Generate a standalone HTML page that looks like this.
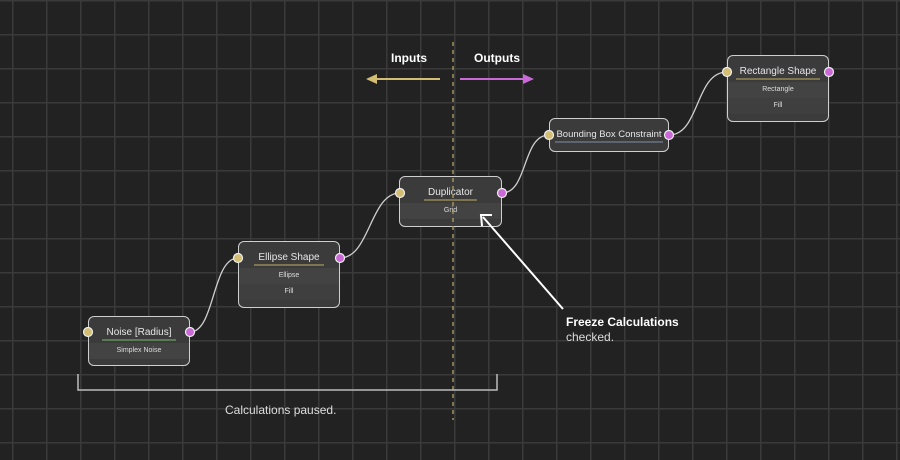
<!DOCTYPE html>
<html><head><meta charset="utf-8"><style>
body{margin:0;width:900px;height:460px;overflow:hidden;background:#222;font-family:"Liberation Sans",sans-serif}
.g{position:absolute;left:0;top:0;width:900px;height:460px;
background-image:linear-gradient(to right,#3a3a3a 0,#3a3a3a 1.5px,transparent 1.5px),linear-gradient(to bottom,#3a3a3a 0,#3a3a3a 1.5px,transparent 1.5px);
background-size:34px 34px;background-position:12px 0,0 0}
.n{position:absolute;background:#3b3b3b;border:1.5px solid #cfcfcf;border-radius:6px;box-sizing:border-box;overflow:hidden}
.t{height:26px;padding-top:9px;box-sizing:border-box;line-height:13px;text-align:center;color:#e6e6e6;font-size:10px;white-space:nowrap}
.t span{border-bottom:2px solid #7d7550;padding:0 4px 1px}
.r{height:16px;line-height:16px;text-align:center;color:#ddd;font-size:7px}
.r.a{background:#434343}
.r.b{background:#3f3f3f}
.lab{position:absolute;color:#fff;font-size:12px}
</style></head><body>
<div class="g"></div>
<svg width="900" height="460" style="position:absolute;left:0;top:0">
<g fill="none" stroke="#d0d0d0" stroke-width="1.3">
<path d="M190 332 C215 332,212 258,238 258"/>
<path d="M340 258 C370 258,370 193,400 193"/>
<path d="M502 193 C528 193,522 135,549 135"/>
<path d="M669 135 C700 135,695 72,727 72"/>
</g>
</svg>
<div class="n" style="left:88px;top:316px;width:102px;height:50px"><div class="t"><span style="border-color:#5a7a55">Noise [Radius]</span></div><div class="r a">Simplex Noise</div></div>
<div class="n" style="left:238px;top:241px;width:102px;height:67px"><div class="t"><span>Ellipse Shape</span></div><div class="r a">Ellipse</div><div class="r b">Fill</div></div>
<div class="n" style="left:399px;top:176px;width:103px;height:51px"><div class="t"><span>Duplicator</span></div><div class="r a">Grid</div></div>
<div class="n" style="left:549px;top:118px;width:120px;height:34px"><div class="t" style="font-size:9.5px"><span style="border-color:#5d6570;padding:0 1px 1px">Bounding Box Constraint</span></div></div>
<div class="n" style="left:727px;top:55px;width:102px;height:67px"><div class="t"><span>Rectangle Shape</span></div><div class="r a">Rectangle</div><div class="r b">Fill</div></div>
<svg width="900" height="460" style="position:absolute;left:0;top:0">
<g stroke="#eee" stroke-width="1.2">
<circle cx="88" cy="332" r="4.5" fill="#d2bd72"/><circle cx="190" cy="332" r="4.5" fill="#c968d6"/>
<circle cx="238" cy="258" r="4.5" fill="#d2bd72"/><circle cx="340" cy="258" r="4.5" fill="#c968d6"/>
<circle cx="400" cy="193" r="4.5" fill="#d2bd72"/><circle cx="502" cy="193" r="4.5" fill="#c968d6"/>
<circle cx="549" cy="135" r="4.5" fill="#d2bd72"/><circle cx="669" cy="135" r="4.5" fill="#c968d6"/>
<circle cx="727" cy="72" r="4.5" fill="#d2bd72"/><circle cx="829" cy="72" r="4.5" fill="#c968d6"/>
</g>
<line x1="453" y1="42" x2="453" y2="420" stroke="#a3945a" stroke-width="1.5" stroke-dasharray="4,4"/>
<line x1="440" y1="79" x2="376" y2="79" stroke="#d2bd72" stroke-width="2"/>
<polygon points="366,79 377,74 377,84" fill="#d2bd72"/>
<line x1="460" y1="79" x2="524" y2="79" stroke="#c968d6" stroke-width="2"/>
<polygon points="534,79 523,74 523,84" fill="#c968d6"/>
<line x1="563" y1="309" x2="483" y2="217" stroke="#fff" stroke-width="2"/>
<polyline points="482,226 481,215 492,215" fill="none" stroke="#fff" stroke-width="2"/>
<polyline points="78,374 78,390 497,390 497,374" fill="none" stroke="#bbb" stroke-width="1.5"/>
</svg>
<div class="lab" style="left:391px;top:51px;font-weight:bold">Inputs</div>
<div class="lab" style="left:474px;top:51px;font-weight:bold">Outputs</div>
<div class="lab" style="left:566px;top:315px;font-weight:bold">Freeze Calculations</div>
<div class="lab" style="left:566px;top:330px;color:#ddd">checked.</div>
<div class="lab" style="left:225px;top:403px;color:#ddd">Calculations paused.</div>
</body></html>
